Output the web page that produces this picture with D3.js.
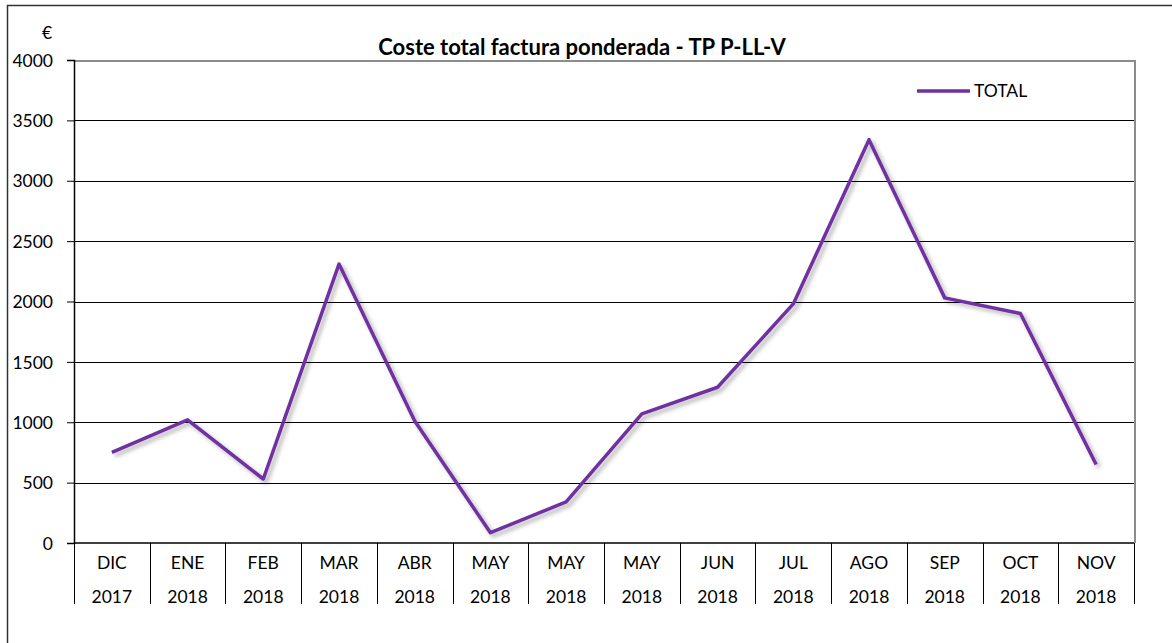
<!doctype html>
<html lang="es">
<head>
  <meta charset="utf-8">
  <title>Coste total factura ponderada</title>
  <style>
    body { margin: 0; background: #fff; }
    svg { font-family: Lato, "Open Sans", sans-serif; }
    .grid line { stroke: #000; stroke-width: 1; shape-rendering: crispEdges; }
  </style>
</head>
<body>
  <div class="chart"></div>
  <script src="https://d3js.org/d3.v7.min.js"></script>
  <script>
    'use strict';

    // data
    const months = ['DIC', 'ENE', 'FEB', 'MAR', 'ABR', 'MAY', 'MAY', 'MAY', 'JUN', 'JUL', 'AGO', 'SEP', 'OCT', 'NOV'];
    const years = ['2017', '2018', '2018', '2018', '2018', '2018', '2018', '2018', '2018', '2018', '2018', '2018', '2018', '2018'];
    const total = [750, 1020, 530, 2310, 1010, 85, 340, 1070, 1290, 1980, 3340, 2030, 1900, 650];
    const yTicks = [0, 500, 1000, 1500, 2000, 2500, 3000, 3500, 4000];

    const W = 1172, H = 643;
    const margin = {top: 60, right: 38, bottom: 100, left: 74};
    const width = W - margin.left - margin.right;
    const height = H - margin.top - margin.bottom;
    const purple = '#7030a0';
    const fs = 17.5;

    const svg = d3.select('.chart').append('svg')
      .attr('width', W)
      .attr('height', H);

    // outer frame
    svg.append('rect')
      .attr('x', 7.5).attr('y', 5.5)
      .attr('width', W + 20).attr('height', H + 20)
      .attr('fill', 'none').attr('stroke', '#333').attr('stroke-width', 1.5);

    const defs = svg.append('defs');
    const f = defs.append('filter').attr('id', 'shadow')
      .attr('x', '-10%').attr('y', '-10%').attr('width', '120%').attr('height', '130%');
    f.append('feDropShadow')
      .attr('dx', 3).attr('dy', 3).attr('stdDeviation', 2)
      .attr('flood-color', '#000').attr('flood-opacity', 0.3);

    const g = svg.append('g').attr('transform', `translate(${margin.left},${margin.top})`);

    const idx = d3.range(months.length);
    const x = d3.scaleBand().domain(idx).range([0, width]);
    const y = d3.scaleLinear().domain([0, 4000]).range([height, 0]);

    // gridlines
    g.append('g').attr('class', 'grid')
      .selectAll('line').data(yTicks.filter(v => v > 0 && v < 4000))
      .join('line')
      .attr('x1', 0).attr('x2', width)
      .attr('y1', d => Math.round(y(d)) + 0.5).attr('y2', d => Math.round(y(d)) + 0.5);

    // plot area border top & right (grey)
    g.append('path')
      .attr('d', `M0,${y(4000) + 0.5}H${width + 0.5}V${height}`)
      .attr('fill', 'none').attr('stroke', '#8c8c8c').attr('stroke-width', 2)
      .attr('shape-rendering', 'crispEdges');

    // y axis
    const yAxis = g.append('g').attr('class', 'axis axis--y')
      .call(d3.axisLeft(y).tickValues(yTicks).tickSize(7).tickPadding(14).tickFormat(d3.format('d')));
    yAxis.attr('font-size', fs).attr('font-family', null);
    yAxis.select('.domain').attr('stroke', '#000').attr('stroke-width', 1.5);
    yAxis.selectAll('.tick line').attr('stroke', '#000');
    yAxis.selectAll('.tick text').attr('fill', '#000').attr('dy', '0.35em');

    svg.append('text')
      .attr('x', 47).attr('y', 39)
      .attr('text-anchor', 'middle')
      .attr('font-size', fs)
      .text('€');

    // x axis with category dividers
    const xg = g.append('g').attr('class', 'axis axis--x')
      .attr('font-size', fs)
      .attr('transform', `translate(0,${height})`);
    xg.append('line')
      .attr('x1', 0).attr('x2', width)
      .attr('stroke', '#000').attr('stroke-width', 1.5);
    const bounds = idx.concat([months.length]);
    xg.selectAll('.div').data(bounds)
      .join('line').attr('class', 'div')
      .attr('x1', d => Math.round(d === months.length ? width : x(d)) + 0.5)
      .attr('x2', d => Math.round(d === months.length ? width : x(d)) + 0.5)
      .attr('y1', 0).attr('y2', 61)
      .attr('stroke', '#000').attr('stroke-width', 1);
    xg.selectAll('.m').data(idx)
      .join('text').attr('class', 'm')
      .attr('x', d => x(d) + x.bandwidth() / 2)
      .attr('y', 26)
      .attr('text-anchor', 'middle')
      .text(d => months[d]);
    xg.selectAll('.yr').data(idx)
      .join('text').attr('class', 'yr')
      .attr('x', d => x(d) + x.bandwidth() / 2)
      .attr('y', 60)
      .attr('text-anchor', 'middle')
      .text(d => years[d]);

    // line
    const line = d3.line()
      .x(d => x(d) + x.bandwidth() / 2)
      .y(d => y(total[d]));
    g.append('path')
      .datum(idx)
      .attr('d', line)
      .attr('fill', 'none')
      .attr('stroke', purple)
      .attr('stroke-width', 3.5)
      .attr('stroke-linejoin', 'round')
      .attr('filter', 'url(#shadow)');

    // title
    svg.append('text')
      .attr('x', 582).attr('y', 55)
      .attr('text-anchor', 'middle')
      .attr('font-size', 22)
      .attr('font-weight', 'bold')
      .text('Coste total factura ponderada - TP P-LL-V');

    // legend
    const lg = svg.append('g').attr('transform', 'translate(917,91)');
    lg.append('line').attr('x1', 0).attr('x2', 53)
      .attr('stroke', purple).attr('stroke-width', 3.5);
    lg.append('text').attr('x', 57).attr('dy', '0.35em')
      .attr('font-size', fs).text('TOTAL');
  </script>
</body>
</html>
